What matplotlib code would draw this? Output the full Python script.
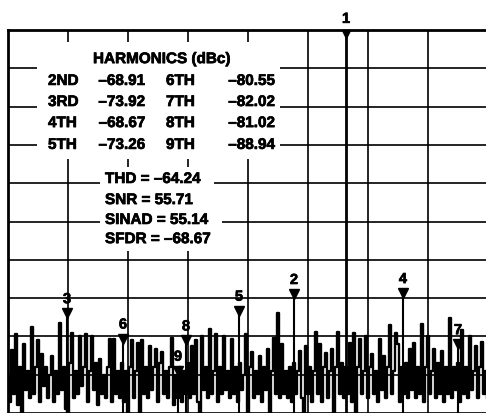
import numpy as np
import matplotlib.pyplot as plt
import matplotlib.patheffects as pe
from matplotlib.patches import Rectangle

plt.rcParams['font.family'] = ['Liberation Sans', 'DejaVu Sans']
plt.rcParams['font.weight'] = 'bold'

# spectrum, one value per bin (dBc)
noise = [
    -90, -97, -83.6, -95, -79.4, -98, -88, -100, -82, -94,
    -89, -96, -77.5, -95, -88, -81, -97, -84.6, -93, -88,
    -96, -90, -85, -97, -89, -95, -76.5, -94, -88, -99,
    -100, -87, -79, -96, -89, -95, -80, -93, -88, -79.4,
    -97, -89, -80, -94, -87, -98, -86, -95, -90, -96,
    -88, -80.7, -97, -80.7, -95, -89, -96, -87, -97, -89,
    -100, -88, -81, -96, -89, -81.7, -100, -81, -95, -88,
    -96, -82.5, -94, -88, -83.3, -97, -87, -84, -95, -89,
    -96, -88, -80.4, -98, -90, -96, -88, -97, -89, -95,
    -87, -96, -82.5, -95, -81, -97, -100, -80, -94, -88,
    -96, -78, -95, -89, -79.4, -97, -88, -95, -80, -94,
    -89, -96, -80.7, -95, -88, -97, -87, -94, -90, -79.4,
    -100, -88, -84, -96, -89, -95, -85, -97, -88, -94,
    -83.3, -100, -89, -80.4, -95, -73.9, -96, -82, -95, -89,
    -96, -88, -97, -87, -95, -89, -83.8, -96, -100, -82.5,
    -95, -88, -97, -89, -78.9, -95, -82, -97, -88, -84.3,
    -96, -89, -83.3, -100, -88, -78.9, -95, -87, -96, -88,
    -95, -81.7, -97, -79, -100, -88, -80.7, -95, -89, -80,
    -96, -88, -84.6, -95, -89, -97, -80.7, -94, -85, -96,
    -88, -77, -95, -89, -79, -82, -97, -88, -95, -87,
    -96, -83.3, -94, -81.7, -96, -88, -95, -76.8, -97, -88,
    -80, -95, -89, -83.3, -96, -87, -95, -83.8, -97, -88,
    -95, -75.2, -96, -88, -94, -87, -97, -78.3, -95, -88,
    -96, -80, -94, -89, -82.5, -96, -88, -81.5, -95, -89,
    -96,
]

fund_bin = 169
fund_level = 0.0

harm_names = ["2ND", "3RD", "4TH", "5TH", "6TH", "7TH", "8TH", "9TH"]
harm_bins = [143, 29.5, 197.5, 115.5, 57.5, 225, 89, 85]
harm_levels = [-68.91, -73.92, -68.67, -73.26, -80.55, -82.02, -81.02, -88.94]

stats = ["THD = \u201364.24", "SNR = 55.71", "SINAD = 55.14", "SFDR = \u201368.67"]

# slightly heavier strokes for the bold labels
heavy = [pe.withStroke(linewidth=0.5, foreground='black')]


def fmt(v):
    return "\u2013%.2f" % abs(v)


fig = plt.figure(figsize=(4.86, 4.14), dpi=100)
ax = fig.add_axes([8 / 486, 0, 480 / 486, 383 / 414])
ax.set_xlim(0, 240)
ax.set_ylim(-100, 0)
ax.set_xticks(np.arange(0, 241, 30))
ax.set_yticks(np.arange(-100, 1, 10))
ax.tick_params(length=0, labelbottom=False, labelleft=False)
ax.grid(True, color='black', lw=1.2)
ax.set_axisbelow(True)
for s in ['top', 'left']:
    ax.spines[s].set_linewidth(2)
ax.spines['right'].set_visible(False)
ax.spines['bottom'].set_visible(False)

# noise floor, drawn as steps so the band fills in
ax.plot(np.arange(len(noise)), noise, color='black', lw=1.7, zorder=3,
        drawstyle='steps-mid')

# fundamental
ax.vlines(fund_bin, -100, fund_level, color='black', lw=2, zorder=4)
ax.plot(fund_bin, fund_level - 1, 'v', color='black', ms=6, zorder=5, clip_on=False)
ax.annotate("1", (fund_bin, fund_level), xytext=(0, 3), textcoords='offset points',
            ha='center', va='bottom', fontsize=10.5, annotation_clip=False,
            path_effects=heavy)

# harmonics
for i, (b, v) in enumerate(zip(harm_bins, harm_levels)):
    ax.vlines(b, -100, v, color='black', lw=1.5, zorder=4)
    ax.plot(b, v, 'v', color='black', ms=7, zorder=5)
    ax.annotate(str(i + 2), (b, v), xytext=(0, 5), textcoords='offset points',
                ha='center', va='bottom', fontsize=10.5, path_effects=heavy)

# harmonics table
ax.add_patch(Rectangle((14.5, -33.7), 121.5, 30.6, facecolor='white',
                       edgecolor='none', zorder=1.5))
ax.text(42.5, -7.6, "HARMONICS (dBc)", fontsize=11, va='center', zorder=6,
        path_effects=heavy)
row_y = [-13.3, -18.8, -24.3, -30.0]
for r in range(4):
    ax.text(20, row_y[r], harm_names[r], fontsize=11, va='center', zorder=6,
            path_effects=heavy)
    ax.text(68.5, row_y[r], fmt(harm_levels[r]), fontsize=11, va='center',
            ha='right', zorder=6, path_effects=heavy)
    ax.text(79, row_y[r], harm_names[r + 4], fontsize=11, va='center', zorder=6,
            path_effects=heavy)
    ax.text(133.5, row_y[r], fmt(harm_levels[r + 4]), fontsize=11, va='center',
            ha='right', zorder=6, path_effects=heavy)

stat_y = [-38.9, -44.4, -49.6, -54.6]
for s, y in zip(stats, stat_y):
    ax.text(48.5, y, s + "  ", fontsize=11, va='center', zorder=6, path_effects=heavy,
            bbox=dict(boxstyle='square,pad=0.35', facecolor='white', edgecolor='none'))

fig.savefig("out.png", dpi=100)
